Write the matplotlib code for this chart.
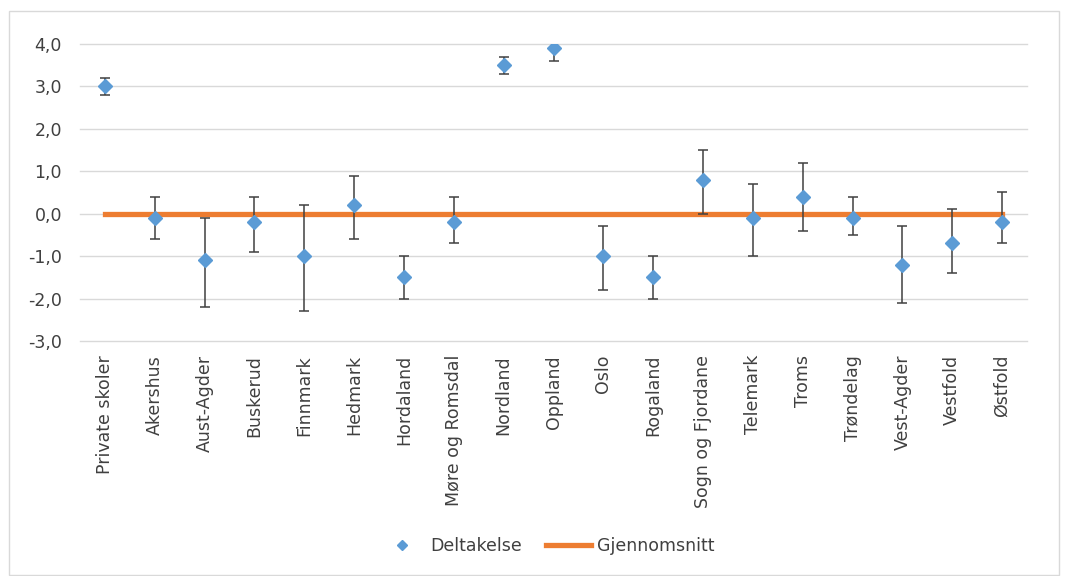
import numpy as np
import matplotlib
matplotlib.use("Agg")
import matplotlib.pyplot as plt
import matplotlib.patches as patches
from matplotlib.ticker import FuncFormatter

categories = ["Private skoler", "Akershus", "Aust-Agder", "Buskerud", "Finnmark",
              "Hedmark", "Hordaland", "Møre og Romsdal", "Nordland", "Oppland",
              "Oslo", "Rogaland", "Sogn og Fjordane", "Telemark", "Troms",
              "Trøndelag", "Vest-Agder", "Vestfold", "Østfold"]
deltakelse = [3.0, -0.1, -1.1, -0.2, -1.0, 0.2, -1.5, -0.2, 3.5, 3.9,
              -1.0, -1.5, 0.8, -0.1, 0.4, -0.1, -1.2, -0.7, -0.2]
err_upper = [3.2, 0.4, -0.1, 0.4, 0.2, 0.9, -1.0, 0.4, 3.7, 4.2,
             -0.3, -1.0, 1.5, 0.7, 1.2, 0.4, -0.3, 0.1, 0.5]
err_lower = [2.8, -0.6, -2.2, -0.9, -2.3, -0.6, -2.0, -0.7, 3.3, 3.6,
             -1.8, -2.0, 0.0, -1.0, -0.4, -0.5, -2.1, -1.4, -0.7]
gjennomsnitt = [0.0] * len(categories)

plt.rcParams['font.family'] = ['DejaVu Sans']

fig = plt.figure(figsize=(10.68, 5.76), dpi=100)
ax = fig.add_axes([80/1068, 1-341/576, 947/1068, 297/576])

x = np.arange(len(categories))
y = np.array(deltakelse)
yerr = np.array([y - np.array(err_lower), np.array(err_upper) - y])

ax.plot(x, gjennomsnitt, color='#ED7D31', lw=3.8, solid_capstyle='projecting', zorder=2,
        label='Gjennomsnitt')
ax.errorbar(x, y, yerr=yerr, fmt='none', ecolor='#404040', elinewidth=1.1,
            capsize=3.5, capthick=1.1, zorder=3)
ax.plot(x, y, 'D', color='#5B9BD5', ms=7, mec='#5B9BD5', zorder=4, label='Deltakelse')

ax.set_xlim(-0.5, len(categories) - 0.5)
ax.set_ylim(-3, 4)
ax.set_yticks(np.arange(-3, 5, 1))
ax.yaxis.set_major_formatter(FuncFormatter(lambda v, p: f"{v:.1f}".replace('.', ',')))
ax.set_xticks(x)
ax.set_xticklabels(categories, rotation=90, fontsize=12.5, color='#404040')
ax.tick_params(axis='y', labelsize=12.5, labelcolor='#404040', length=0, pad=13)
ax.tick_params(axis='x', length=0, pad=10)
ax.grid(axis='y', color='#D9D9D9', lw=1)
for gl in ax.get_ygridlines():
    gl.set_clip_on(False)
ax.set_axisbelow(True)
for s in ax.spines.values():
    s.set_visible(False)

handles, labels = ax.get_legend_handles_labels()
leg = fig.legend(handles[::-1], labels[::-1], loc='center', ncol=2,
                 bbox_to_anchor=(547/1068, 1-546/576), frameon=False,
                 fontsize=12.5, handlelength=2.6, handletextpad=0.35,
                 columnspacing=1.4, markerscale=0.7)
for t in leg.get_texts():
    t.set_color('#404040')

fig.patches.append(patches.Rectangle((9/1068, 1/576), 1050/1068, 564/576,
                                     transform=fig.transFigure, fill=False,
                                     ec='#D9D9D9', lw=1))

fig.savefig("out.png", dpi=100)
